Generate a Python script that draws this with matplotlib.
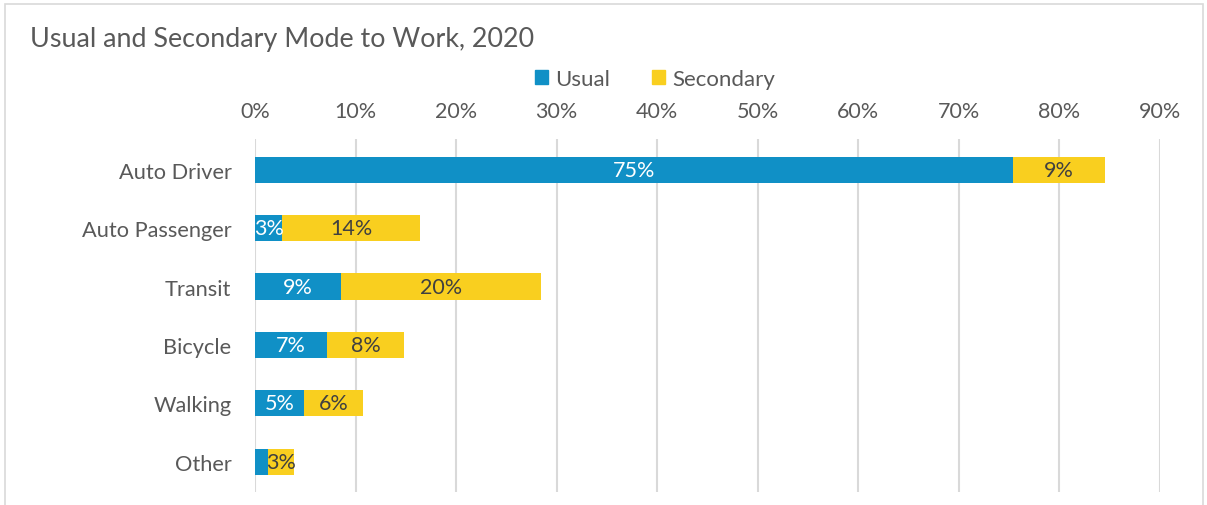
import matplotlib
matplotlib.use("Agg")
import matplotlib.pyplot as plt
from matplotlib.patches import Rectangle, Patch

# Share of commuters by travel mode (percent)
modes = ["Auto Driver", "Auto Passenger", "Transit", "Bicycle", "Walking", "Other"]
usual = [75.4, 2.7, 8.6, 7.2, 4.9, 1.3]
secondary = [9.1, 13.7, 19.8, 7.6, 5.8, 2.6]
ticks = [0, 10, 20, 30, 40, 50, 60, 70, 80, 90]
tick_labels = [f"{t}%" for t in ticks]

BLUE = "#1090C6"
YELLOW = "#F9CF1F"
GREY_TEXT = "#595959"
DARK_TEXT = "#404040"

plt.rcParams["font.family"] = ["Lato", "DejaVu Sans"]

W, H = 1207, 506
fig = plt.figure(figsize=(W / 100, H / 100), dpi=100)

# chart frame
fig.add_artist(Rectangle((5 / W, -0.01), (1203 - 5) / W, 1 - 5 / H + 0.01,
                         transform=fig.transFigure, fill=False,
                         edgecolor="#D9D9D9", linewidth=1.2))

left, right = 255 / W, 1160 / W
top, bottom = 1 - 140 / H, 1 - 493 / H
ax = fig.add_axes([left, bottom, right - left, top - bottom])

y = list(range(len(modes)))
h = 0.45
b1 = ax.barh(y, usual, height=h, color=BLUE, zorder=3)
b2 = ax.barh(y, secondary, left=usual, height=h, color=YELLOW, zorder=3)

for rect, v in zip(b1, usual):
    if v >= 2:
        ax.text(rect.get_x() + rect.get_width() / 2, rect.get_y() + rect.get_height() / 2,
                f"{v:.0f}%", ha="center", va="center", color="white", fontsize=15.5, zorder=4)
for rect, v in zip(b2, secondary):
    ax.text(rect.get_x() + rect.get_width() / 2, rect.get_y() + rect.get_height() / 2,
            f"{v:.0f}%", ha="center", va="center", color=DARK_TEXT, fontsize=15.5, zorder=4)

ax.set_xlim(0, 90)
ax.set_ylim(5.52, -0.53)
ax.set_xticks(ticks)
ax.set_xticklabels(tick_labels)
ax.xaxis.tick_top()
ax.set_yticks(y)
ax.set_yticklabels(modes)
ax.tick_params(axis="x", length=0, pad=13, labelsize=15.5, colors=GREY_TEXT)
ax.tick_params(axis="y", length=0, pad=17, labelsize=15.7, colors=GREY_TEXT)
ax.grid(axis="x", color="#D9D9D9", linewidth=1.5, zorder=0)
for s in ax.spines.values():
    s.set_visible(False)

fig.text(30 / W, 1 - 39 / H, "Usual and Secondary Mode to Work, 2020",
         fontsize=19.4, color=GREY_TEXT, ha="left", va="center")

handles = [Patch(color=BLUE, label="Usual"), Patch(color=YELLOW, label="Secondary")]
fig.legend(handles=handles, loc="center", bbox_to_anchor=(655 / W, 1 - 80 / H), ncol=2,
           frameon=False, fontsize=16, labelcolor=GREY_TEXT, handlelength=0.6,
           handleheight=0.6, handletextpad=0.3, columnspacing=1.9)

fig.savefig("out.png", dpi=100)
